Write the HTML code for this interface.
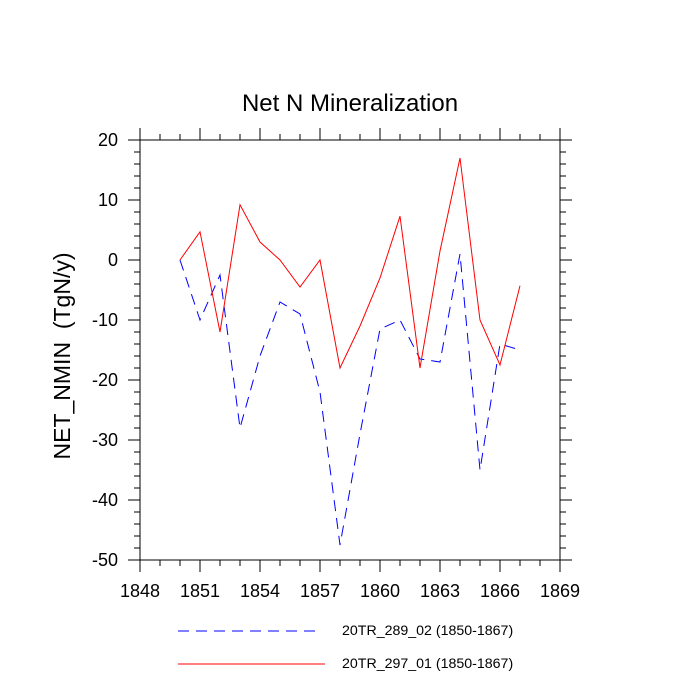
<!DOCTYPE html>
<html><head><meta charset="utf-8"><style>
body{margin:0;background:#fff;}
svg{display:block;font-family:"Liberation Sans",sans-serif;}
</style></head><body>
<svg id="chart" width="700" height="700">
<text x="350" y="111" text-anchor="middle" font-size="24">Net N Mineralization</text>
<text transform="translate(70,356) rotate(-90)" text-anchor="middle" font-size="23" style="white-space:pre">NET_NMIN  (TgN/y)</text>
<g id="axes"></g>
<g id="series"></g>
<g>
<line x1="178" y1="631" x2="318" y2="631" stroke="#0000ff" stroke-width="1" stroke-dasharray="11,7"/>
<text x="342" y="635" font-size="14.2">20TR_289_02 (1850-1867)</text>
<line x1="178" y1="664" x2="325" y2="664" stroke="#ff0000" stroke-width="1"/>
<text x="342" y="668" font-size="14.2">20TR_297_01 (1850-1867)</text>
</g>
</svg>
<script>
const years=[1850,1851,1852,1853,1854,1855,1856,1857,1858,1859,1860,1861,1862,1863,1864,1865,1866,1867];
const red297=[0,4.7,-12,9.2,3,0,-4.5,0,-18,-11,-3,7.3,-18,1.5,17,-10,-17.5,-4.3];
const blue289=[0,-10,-2.5,-28,-16,-7,-9,-22,-47.5,-29,-11.5,-10,-16.5,-17,1,-35,-14,-15];
const xTicks=[1848,1851,1854,1857,1860,1863,1866,1869];
const yTicks=[20,10,0,-10,-20,-30,-40,-50];
const L=140,R=560,T=140,B=560;
const xs=v=>L+(v-1848)/(1869-1848)*(R-L);
const ys=v=>T+(20-v)/(70)*(B-T);
const NS="http://www.w3.org/2000/svg";
const ax=document.getElementById('axes');
function mk(tag,attrs,parent){const e=document.createElementNS(NS,tag);for(const k in attrs)e.setAttribute(k,attrs[k]);parent.appendChild(e);return e;}
const box=mk('rect',{x:L,y:T,width:R-L,height:B-T,fill:'none',stroke:'#000','stroke-width':1},ax);


for(let yr=1848;yr<=1869;yr++){
  const maj=(yr-1848)%3===0,len=maj?12:6,x=xs(yr);
  mk('line',{x1:x,y1:B,x2:x,y2:B+len,stroke:'#000'},ax);
  mk('line',{x1:x,y1:T,x2:x,y2:T-len,stroke:'#000'},ax);
}
for(let v=-50;v<=20;v+=2){
  const maj=v%10===0,len=maj?12:6,y=ys(v);
  mk('line',{x1:L,y1:y,x2:L-len,y2:y,stroke:'#000'},ax);
  mk('line',{x1:R,y1:y,x2:R+len,y2:y,stroke:'#000'},ax);
}
xTicks.forEach(t=>{const e=mk('text',{x:xs(t),y:597,'text-anchor':'middle','font-size':18},ax);e.textContent=t;

});
yTicks.forEach(t=>{const e=mk('text',{x:118,y:ys(t)+6,'text-anchor':'end','font-size':18},ax);e.textContent=t;

});
const sg=document.getElementById('series');
function line(vals,color,dash,name){
  const p=mk('polyline',{points:vals.map((v,i)=>xs(years[i])+','+ys(v)).join(' '),fill:'none',stroke:color,'stroke-width':1},sg);
  if(dash)p.setAttribute('stroke-dasharray',dash);
  
  
}
line(blue289,'#0000ff','11,7','series-20tr-289-02');
line(red297,'#ff0000',null,'series-20tr-297-01');
</script>
</body></html>
